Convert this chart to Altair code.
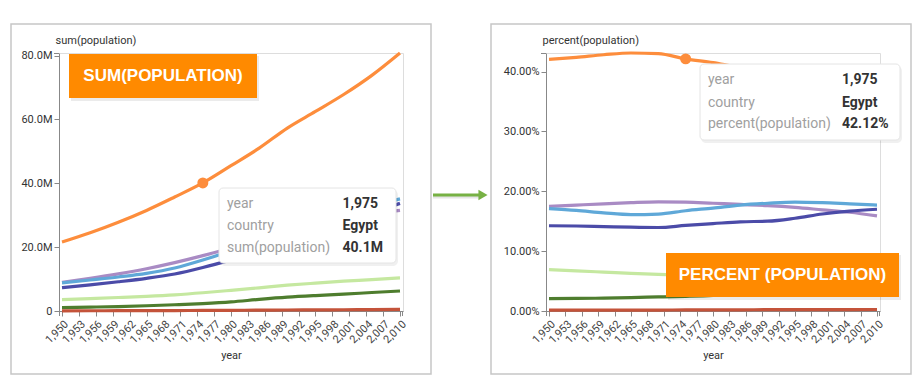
import altair as alt
import pandas as pd

years = [1950, 1955, 1960, 1965, 1970, 1975, 1980, 1985, 1990, 1995, 2000, 2005, 2010]
countries = ["Egypt", "Morocco", "Sudan", "Algeria", "Tunisia", "Libya", "Western Sahara"]
colors = ["#fd8d3c", "#a98bc4", "#5fa8d8", "#4b4ba8", "#c5e8a0", "#4e7d2e", "#c4533a"]

# population in millions
egypt = [21.6, 24.5, 27.8, 31.5, 35.7, 40.1, 45.5, 51.0, 57.3, 62.5, 67.8, 73.8, 80.8]
morocco = [8.99, 10.23, 11.62, 13.23, 15.15, 17.33, 19.74, 22.31, 24.94, 26.98, 28.67, 30.32, 31.53]
sudan = [8.79, 9.71, 10.65, 11.77, 13.45, 15.95, 18.86, 22.18, 25.51, 28.38, 30.70, 32.89, 35.10]
algeria = [7.32, 8.21, 9.16, 10.23, 11.58, 13.61, 16.01, 18.67, 21.26, 24.17, 27.48, 30.69, 33.71]
tunisia = [3.55, 3.87, 4.22, 4.60, 5.07, 5.71, 6.47, 7.27, 8.08, 8.73, 9.33, 9.83, 10.39]
libya = [1.07, 1.21, 1.40, 1.64, 1.95, 2.33, 2.85, 3.63, 4.32, 4.83, 5.26, 5.79, 6.27]
wsahara = [0.067, 0.075, 0.091, 0.110, 0.133, 0.171, 0.219, 0.251, 0.312, 0.343, 0.390, 0.441, 0.496]

x_ticks = list(range(1950, 2011, 3))
left_ticks = [0, 20, 40, 60, 80]
right_ticks = [0, 0.1, 0.2, 0.3, 0.4]

series = [egypt, morocco, sudan, algeria, tunisia, libya, wsahara]
rows = []
for c, vals in zip(countries, series):
    for yr, v in zip(years, vals):
        rows.append({"country": c, "year": yr, "population": v})
df = pd.DataFrame(rows)
one = pd.DataFrame({"a": [0]})

FONT = "Roboto"
ORANGE_BOX = "#ff8a00"
BORDER = "#c6c6c6"
AXIS = "#888"
TIPSIZE = 14

color = alt.Color("country:N", scale=alt.Scale(domain=countries, range=colors), legend=None)
xenc = alt.X(
    "year:Q",
    scale=alt.Scale(domain=[1950, 2010], nice=False, zero=False, padding=3),
    axis=alt.Axis(
        values=x_ticks, tickCount=len(x_ticks) + 5, format=",", labelAngle=-45, labelAlign="right",
        labelBaseline="top", labelOverlap=False, labelFontSize=11, labelColor="#444", labelFont=FONT,
        tickSize=5, tickColor=AXIS, domainColor=AXIS, grid=False, title="year", titleFont=FONT,
        titleFontSize=11, titleFontWeight="normal", titleColor="#333", titleY=47,
        titleBaseline="alphabetic",
    ),
)

def yaxis(title, **kw):
    return alt.Axis(
        grid=False, tickSize=5, tickColor=AXIS, domainColor=AXIS, labelColor="#333",
        labelFontSize=11, labelFont=FONT, title=title, titleAngle=0, titleAlign="left",
        titleX=-4, titleY=-10, titleBaseline="alphabetic", titleFont=FONT, titleFontSize=11,
        titleFontWeight="normal", titleColor="#333", tickCount=10, **kw,
    )

sel = "datum.country == 'Egypt' && datum.year == 1975"

def deco(x, x2, y, y2, **kw):
    return alt.Chart(one).mark_rect(**kw).encode(
        x=alt.value(x), x2=alt.value(x2), y=alt.value(y), y2=alt.value(y2)
    )

def rule(x, x2, y, y2):
    return alt.Chart(one).mark_rule(color=AXIS, strokeWidth=1).encode(
        x=alt.value(x), x2=alt.value(x2), y=alt.value(y), y2=alt.value(y2)
    )

def label(txt, x, y, **kw):
    return alt.Chart(one).mark_text(**kw).encode(x=alt.value(x), y=alt.value(y), text=alt.value(txt))

def tipval(base, x, y, text):
    return base.mark_text(font=FONT, fontSize=TIPSIZE, fontWeight="bold", color="#333",
                          align="left", baseline="middle").encode(x=alt.value(x), y=alt.value(y), text=text)

def outer_ticks(w, h):
    return [rule(-5, 0, 0.5, 0.5), rule(w - 0.5, w - 0.5, h, h + 5), rule(0.5, 0.5, h, h + 5)]

# ---------------- left panel ----------------
LW, LH = 344, 258
lbase = alt.Chart(df)
lyenc = alt.Y(
    "population:Q", scale=alt.Scale(zero=True, nice=False),
    axis=yaxis("sum(population)", values=left_ticks,
               labelExpr="datum.value == 0 ? '0' : format(datum.value, '.1f') + 'M'"),
)
l_border = deco(-48, 372, -29, 321, filled=False, stroke=BORDER, strokeWidth=1.5)
l_lines = lbase.mark_line(interpolate="monotone", strokeWidth=3.2).encode(x=xenc, y=lyenc, color=color)
l_dot = lbase.transform_filter(sel).mark_circle(size=120, opacity=1, color="#fd8d3c").encode(x="year:Q", y="population:Q")
l_lab_sh = deco(12, 200, 3, 48, fill="#000", opacity=0.08)
l_lab = deco(10, 198, 1, 45, fill=ORANGE_BOX)
l_lab_t = label("SUM(POPULATION)", 104, 23, font="Liberation Sans", fontSize=17, fontWeight="bold",
                color="white", align="center", baseline="middle")
l_tip_sh = deco(161, 339, 137, 213, fill="#000", opacity=0.06, cornerRadius=5)
l_tip = deco(160, 337, 135, 210, fill="white", stroke="#e4e4e4", strokeWidth=1, cornerRadius=4)
keys_l = ["year", "country", "sum(population)"]
rows_l = [151.3, 173, 195.3]
l_keys = [label(k, 168, yy, font=FONT, fontSize=TIPSIZE, color="#a0a0a0", align="left", baseline="middle")
          for k, yy in zip(keys_l, rows_l)]
tipbase_l = lbase.transform_filter(sel)
l_v1 = tipval(tipbase_l, 283.5, rows_l[0], alt.Text("year:Q", format=","))
l_v2 = tipval(tipbase_l, 283.5, rows_l[1], alt.Text("country:N"))
l_v3 = tipval(tipbase_l.transform_calculate(lab="format(datum.population, '.1f') + 'M'"), 283.5, rows_l[2],
              alt.Text("lab:N"))
arrow_sh = deco(374, 420, 143, 145.5, fill="#000", opacity=0.1)
arrow = deco(374, 420, 140.5, 143.5, fill="#77b144")
arrow_head = alt.Chart(one).mark_point(shape="triangle-right", filled=True, size=110, color="#77b144", opacity=1).encode(
    x=alt.value(424), y=alt.value(142))

left = alt.layer(
    l_border, l_lines, *outer_ticks(LW, LH), l_dot, l_lab_sh, l_lab, l_lab_t, l_tip_sh, l_tip, *l_keys,
    l_v1, l_v2, l_v3, arrow_sh, arrow, arrow_head,
).properties(width=LW, height=LH)

# ---------------- right panel ----------------
RW, RH = 334, 258
rbase = alt.Chart(df).transform_joinaggregate(total="sum(population)", groupby=["year"]).transform_calculate(
    percent="datum.population / datum.total")
ryenc = alt.Y(
    "percent:Q", scale=alt.Scale(zero=True, nice=False),
    axis=yaxis("percent(population)", values=right_ticks, format=".2%"),
)
r_border = deco(-55, 365, -29, 321, filled=False, stroke=BORDER, strokeWidth=1.5)
r_lines = rbase.mark_line(interpolate="monotone", strokeWidth=3.2).encode(x=xenc, y=ryenc, color=color)
r_dot = rbase.transform_filter(sel).mark_circle(size=120, opacity=1, color="#fd8d3c").encode(x="year:Q", y="percent:Q")
r_tip_sh = deco(155, 356, 13, 90, fill="#000", opacity=0.06, cornerRadius=5)
r_tip = deco(154, 354, 11, 87, fill="white", stroke="#e4e4e4", strokeWidth=1, cornerRadius=4)
keys_r = ["year", "country", "percent(population)"]
rows_r = [27.3, 49.7, 71.3]
r_keys = [label(k, 162, yy, font=FONT, fontSize=TIPSIZE, color="#a0a0a0", align="left", baseline="middle")
          for k, yy in zip(keys_r, rows_r)]
tipbase_r = rbase.transform_filter(sel)
r_v1 = tipval(tipbase_r, 296, rows_r[0], alt.Text("year:Q", format=","))
r_v2 = tipval(tipbase_r, 296, rows_r[1], alt.Text("country:N"))
r_v3 = tipval(tipbase_r, 296, rows_r[2], alt.Text("percent:Q", format=".2%"))
r_lab_sh = deco(122, 355, 202, 247, fill="#000", opacity=0.08)
r_lab = deco(120, 353, 200, 244, fill=ORANGE_BOX)
r_lab_t = label("PERCENT (POPULATION)", 236.5, 222, font="Liberation Sans", fontSize=17, fontWeight="bold",
                color="white", align="center", baseline="middle")

right = alt.layer(
    r_border, r_lines, *outer_ticks(RW, RH), r_dot, r_tip_sh, r_tip, *r_keys, r_v1, r_v2, r_v3,
    r_lab_sh, r_lab, r_lab_t,
).properties(width=RW, height=RH)

chart = alt.hconcat(left, right, spacing=0).properties(
    padding={"left": 1, "top": 14, "right": 0, "bottom": 0},
    autosize=alt.AutoSizeParams(type="pad"),
).configure_view(stroke=None).configure(background="white")

chart.save("out.html", embed_options={"renderer": "svg", "actions": False})
